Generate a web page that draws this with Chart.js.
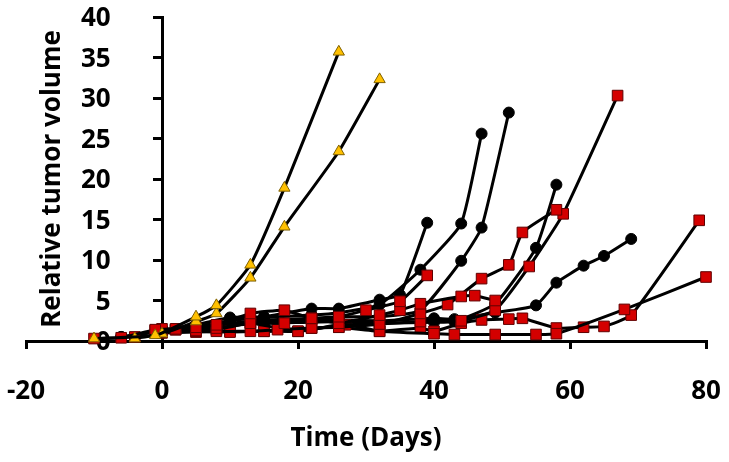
<!DOCTYPE html>
<html>
<head>
<meta charset="utf-8">
<script src="https://cdn.jsdelivr.net/npm/chart.js@4"></script>
<style>
  body { margin: 0; background: #fff; }
  #wrap { width: 729px; height: 462px; position: relative; }
</style>
</head>
<body>
<div id="wrap"><canvas id="chart"></canvas></div>
<script>
// Axis ticks
const xTicks = [-20, 0, 20, 40, 60, 80];
const yTicks = [0, 5, 10, 15, 20, 25, 30, 35, 40];

// Yellow triangles - [day, relative volume]
const tri1 = [[-10, 0.3], [-1, 0.7], [5, 3.0], [8, 4.4], [13, 9.4], [18, 18.9], [26, 35.7]];
const tri2 = [[-4, 0.3], [0, 0.9], [5, 2.4], [8, 3.4], [13, 7.8], [18, 14.1], [26, 23.4], [32, 32.3]];

// Red squares
const sq1 = [[-10, 0.3], [-6, 0.4], [-1, 1.4], [2, 1.5], [5, 1.7], [8, 2.0], [13, 3.4], [18, 3.8], [22, 2.8], [26, 3.0], [30, 3.8], [35, 4.9], [39, 8.1]];
const sq2 = [[-4, 0.5], [0, 1.5], [2, 1.4], [8, 1.6], [13, 2.2], [18, 2.2], [22, 2.8], [26, 2.2], [32, 3.2], [35, 3.8], [38, 4.6], [44, 5.5], [46, 5.6], [49, 5.0]];
const sq3 = [[-1, 1.3], [2, 1.4], [8, 1.2], [13, 1.2], [17, 1.4], [22, 1.6], [26, 1.7], [32, 2.1], [38, 3.4], [42, 4.5], [47, 7.7], [51, 9.4], [53, 13.4], [58, 16.2]];
const sq4 = [[0, 1.2], [5, 1.3], [8, 1.4], [13, 2.2], [20, 1.2], [26, 2.0], [32, 2.1], [38, 2.4], [44, 2.5], [49, 3.8], [54, 9.2], [59, 15.7], [67, 30.3]];
const sq5 = [[0, 1.1], [5, 1.2], [10, 1.1], [15, 1.2], [20, 1.2], [27, 2.0], [32, 1.2], [40, 0.9], [43, 0.8], [49, 0.8], [55, 0.8], [58, 0.9], [68, 3.9], [80, 7.9]];
const sq6 = [[0, 1.0], [5, 1.1], [10, 1.2], [15, 1.2], [22, 1.6], [26, 1.7], [32, 1.2], [38, 1.6], [40, 1.2], [44, 2.2], [47, 2.6], [51, 2.7], [53, 2.8], [58, 1.6], [62, 1.7], [65, 1.8], [69, 3.2], [79, 14.9]];

// Black circles
const circ1 = [[-6, 0.5], [0, 1.3], [5, 2.0], [10, 2.9], [15, 3.0], [22, 4.0], [26, 4.0], [32, 5.1], [35, 5.7], [39, 14.6]];
const circ2 = [[-6, 0.5], [0, 1.2], [5, 1.8], [10, 2.5], [15, 2.9], [22, 3.2], [26, 3.5], [32, 4.5], [38, 8.8], [44, 14.5], [47, 25.6]];
const circ3 = [[0, 1.1], [5, 1.6], [10, 2.2], [15, 2.6], [22, 2.8], [26, 3.0], [32, 3.0], [38, 3.8], [44, 9.9], [47, 14.0], [51, 28.2]];
const circ4 = [[0, 1.0], [5, 1.5], [10, 2.0], [15, 2.4], [22, 2.5], [26, 2.6], [32, 2.5], [40, 2.8], [43, 2.7], [49, 3.5], [55, 4.4], [58, 7.2], [62, 9.3], [65, 10.5], [69, 12.6]];
const circ5 = [[0, 1.0], [5, 1.4], [10, 1.9], [15, 2.2], [22, 2.3], [26, 2.4], [32, 2.2], [40, 2.3], [43, 2.4], [49, 4.6], [55, 11.5], [58, 19.3]];

const FONT = "'Open Sans', Lato, sans-serif";
const axisFont = { family: FONT, size: 26, weight: 'bold' };

function toPoints(arr) {
    return arr.map(p => ({ x: p[0], y: p[1] }));
}

function makeSet(arr, style) {
    const base = {
        data: toPoints(arr),
        borderColor: '#000',
        borderWidth: 3,
        tension: 0.15,
        clip: false,
        pointBorderWidth: 1
    };
    if (style === 'tri') {
        return Object.assign(base, { pointStyle: 'triangle', pointRadius: 6.5, pointBackgroundColor: '#ffc000', pointBorderColor: '#7f6000' });
    }
    if (style === 'sq') {
        return Object.assign(base, { pointStyle: 'rect', pointRadius: 7.5, pointBackgroundColor: '#d40000', pointBorderColor: '#600000' });
    }
    return Object.assign(base, { pointStyle: 'circle', pointRadius: 5.5, pointBackgroundColor: '#000', pointBorderColor: '#000' });
}

// first dataset is drawn on top in Chart.js
const datasets = [
    makeSet(tri1, 'tri'), makeSet(tri2, 'tri'),
    makeSet(sq1, 'sq'), makeSet(sq2, 'sq'), makeSet(sq3, 'sq'),
    makeSet(sq4, 'sq'), makeSet(sq5, 'sq'), makeSet(sq6, 'sq'),
    makeSet(circ1, 'circ'), makeSet(circ2, 'circ'), makeSet(circ3, 'circ'),
    makeSet(circ4, 'circ'), makeSet(circ5, 'circ')
];

// y axis title drawn by hand, the crossing axis gets the rotation wrong
const yTitlePlugin = {
    id: 'yTitle',
    afterDraw(chart) {
        const ctx = chart.ctx;
        const area = chart.chartArea;
        ctx.save();
        ctx.translate(60, (area.top + area.bottom) / 2);
        ctx.rotate(-Math.PI / 2);
        ctx.font = 'bold 26px ' + FONT;
        ctx.fillStyle = '#000';
        ctx.textAlign = 'center';
        ctx.textBaseline = 'alphabetic';
        ctx.fillText('Relative tumor volume', 0, 0);
        ctx.restore();
    }
};

// y axes sit inside the plot, they should not eat layout space
function noSpace(s) {
    s.width = 0;
    s.paddingTop = 0;
    s.paddingBottom = 0;
}

new Chart(document.getElementById('chart'), {
    type: 'line',
    data: { datasets: datasets },
    plugins: [yTitlePlugin],
    options: {
        responsive: true,
        maintainAspectRatio: false,
        animation: false,
        layout: { padding: { left: 26, right: 23, top: 17, bottom: 0 } },
        plugins: {
            legend: { display: false },
            tooltip: { enabled: false }
        },
        scales: {
            x: {
                type: 'linear',
                min: -20,
                max: 80,
                afterBuildTicks: s => { s.ticks = xTicks.map(v => ({ value: v })); },
                afterFit: s => { s.paddingLeft = 0; s.paddingRight = 0; s.height = 121; },
                border: { display: true, color: '#000', width: 3 },
                grid: { drawOnChartArea: false, color: '#000', lineWidth: 3, tickLength: 8 },
                ticks: { color: '#000', padding: 27, font: axisFont },
                title: {
                    display: true,
                    text: 'Time (Days)',
                    color: '#000',
                    font: axisFont,
                    padding: { top: 0, bottom: 8 }
                }
            },
            y: {
                type: 'linear',
                min: 0,
                max: 40,
                position: { x: 0 },
                afterBuildTicks: s => { s.ticks = yTicks.map(v => ({ value: v })); },
                afterFit: noSpace,
                border: { display: true, color: '#000', width: 3 },
                grid: { drawOnChartArea: false, color: '#000', lineWidth: 3, tickLength: 8 },
                ticks: { display: false }
            },
            // labels only: zero-width left axis, mirrored so the text is not clipped,
            // right-aligned and pushed in to sit just left of x=0
            yLabels: {
                type: 'linear',
                axis: 'y',
                min: 0,
                max: 40,
                position: 'left',
                afterBuildTicks: s => { s.ticks = yTicks.map(v => ({ value: v })); },
                afterFit: noSpace,
                border: { display: false },
                grid: { display: false, drawTicks: false },
                ticks: { color: '#000', font: axisFont, labelOffset: 2, mirror: true, crossAlign: 'far', padding: 55 }
            }
        }
    }
});
</script>
</body>
</html>
